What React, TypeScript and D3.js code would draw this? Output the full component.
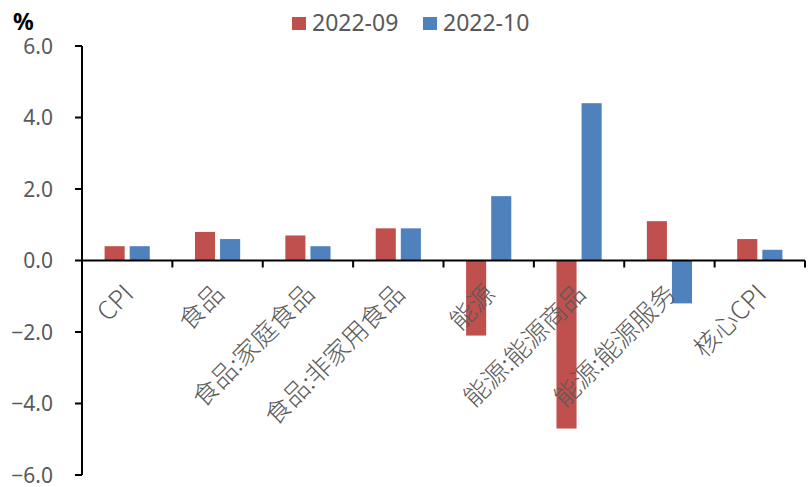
import React from 'react';
import * as d3 from 'd3';

// Chart data
const categories = ['CPI', '食品', '食品:家庭食品', '食品:非家用食品', '能源', '能源:能源商品', '能源:能源服务', '核心CPI'];
const seriesNames = ['2022-09', '2022-10'];
const sep2022 = [0.4, 0.8, 0.7, 0.9, -2.1, -4.7, 1.1, 0.6];
const oct2022 = [0.4, 0.6, 0.4, 0.9, 1.8, 4.4, -1.2, 0.3];
const yTicks = [6, 4, 2, 0, -2, -4, -6];
const colors = ['#C0504D', '#4F81BD'];

const W = 812;
const H = 487;
const latin = '"Noto Sans", "DejaVu Sans", sans-serif';
const cjk = '"Noto Sans CJK SC", "Noto Sans", sans-serif';

export default function App() {
  const x0 = d3.scaleBand().domain(categories).range([82, 805]).padding(0);
  const x1 = d3
    .scaleBand()
    .domain(seriesNames)
    .range([0, x0.bandwidth()])
    .paddingInner(0.2)
    .paddingOuter(0.9);
  const y = d3.scaleLinear().domain([-6, 6]).range([475, 46]);
  const y0 = y(0);
  const values = [sep2022, oct2022];

  // band boundaries for x ticks
  const xTickPos = categories.map((c) => x0(c)).concat([x0.range()[1]]);

  return (
    <svg
      width={W}
      height={H}
      viewBox={`0 0 ${W} ${H}`}
      style={{ position: 'fixed', left: 0, top: 0, background: '#fff' }}
    >
      <rect width={W} height={H} fill="#fff" />

      {/* unit */}
      <text x={13} y={30} fontFamily={latin} fontSize={23} fontWeight={700} fill="#000">%</text>

      {/* legend */}
      {seriesNames.map((s, i) => {
        const lx = i === 0 ? 292 : 423;
        return (
          <g key={s}>
            <rect x={lx} y={17} width={14} height={13} fill={colors[i]} />
            <text x={lx + 20} y={31} fontFamily={latin} fontSize={23} fill="#595959">{s}</text>
          </g>
        );
      })}

      {/* bars */}
      {values.map((vals, si) =>
        vals.map((v, ci) => {
          const bx = (x0(categories[ci]) as number) + (x1(seriesNames[si]) as number);
          return (
            <rect
              key={`${si}-${ci}`}
              x={bx}
              y={Math.min(y(v), y0)}
              width={x1.bandwidth()}
              height={Math.abs(y(v) - y0)}
              fill={colors[si]}
            />
          );
        })
      )}

      {/* y axis */}
      <line x1={82} x2={82} y1={y(6)} y2={y(-6)} stroke="#000" strokeWidth={2} />
      {yTicks.map((t) => (
        <g key={t}>
          <line x1={75} x2={82} y1={y(t)} y2={y(t)} stroke="#000" strokeWidth={2} />
          <text
            x={53}
            y={y(t)}
            dy="0.36em"
            textAnchor="end"
            fontFamily={latin}
            fontSize={21}
            fill="#595959"
          >
            {d3.format('.1f')(t)}
          </text>
        </g>
      ))}

      {/* x axis */}
      <line x1={82} x2={805} y1={y0} y2={y0} stroke="#000" strokeWidth={2} />
      {xTickPos.map((p, i) => (
        <line key={i} x1={p} x2={p} y1={y0} y2={y0 + 7} stroke="#000" strokeWidth={2} />
      ))}
      {categories.map((c) => {
        const cx = (x0(c) as number) + x0.bandwidth() / 2 + 8;
        const cy = y0 + 35;
        return (
          <text
            key={c}
            x={cx}
            y={cy}
            textAnchor="end"
            transform={`rotate(-45 ${cx} ${cy})`}
            fontFamily={cjk}
            fontSize={25.5}
            fontWeight={300}
            fill="#595959"
          >
            {c}
          </text>
        );
      })}
    </svg>
  );
}
